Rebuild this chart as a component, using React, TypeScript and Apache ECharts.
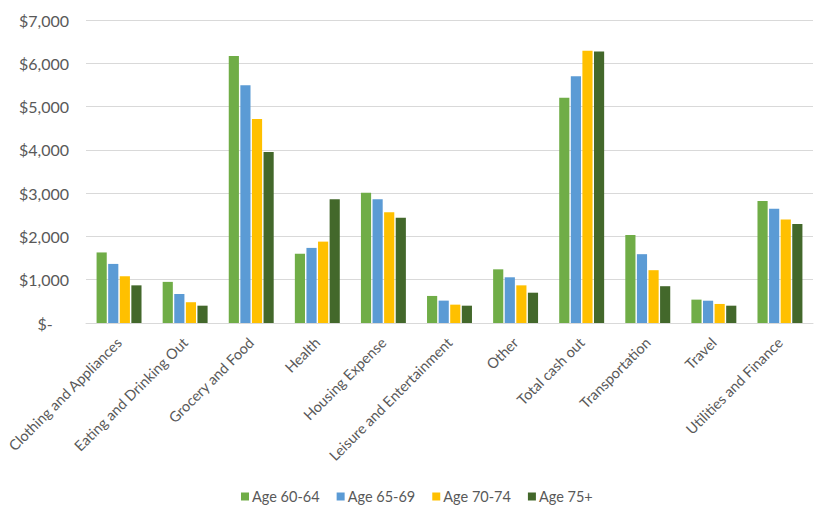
import React, { useEffect, useRef } from "react";
import * as echarts from "echarts";

const categories = [
  "Clothing and Appliances",
  "Eating and Drinking Out",
  "Grocery and Food",
  "Health",
  "Housing Expense",
  "Leisure and Entertainment",
  "Other",
  "Total cash out",
  "Transportation",
  "Travel",
  "Utilities and Finance",
];

const seriesNames = ["Age 60-64", "Age 65-69", "Age 70-74", "Age 75+"];
const age6064 = [1630, 950, 6170, 1600, 3010, 625, 1240, 5205, 2035, 540, 2820];
const age6569 = [1365, 670, 5490, 1735, 2860, 517, 1056, 5700, 1590, 515, 2640];
const age7074 = [1080, 480, 4710, 1880, 2560, 424, 870, 6290, 1220, 440, 2390];
const age75p = [870, 400, 3950, 2860, 2430, 400, 700, 6270, 850, 400, 2290];
const colors = ["#70AD47", "#5B9BD5", "#FFC000", "#43682B"];

const FONT = "Lato, 'Liberation Sans', sans-serif";

export default function App() {
  const ref = useRef<HTMLDivElement>(null);
  useEffect(() => {
    if (!ref.current) return;
    const chart = echarts.init(ref.current, undefined, { renderer: "svg" });
    const data = [age6064, age6569, age7074, age75p];
    chart.setOption({
      animation: false,
      textStyle: { fontFamily: FONT },
      grid: { left: 86, right: 11, top: 20, bottom: 188, containLabel: false },
      legend: {
        top: 489,
        left: 241,
        padding: 0,
        itemWidth: 8,
        itemHeight: 8,
        itemGap: 17,
        icon: "rect",
        textStyle: { color: "#595959", fontSize: 14.5, fontFamily: FONT, padding: [0, 0, 0, -2] },
        data: seriesNames,
      },
      xAxis: {
        type: "category",
        data: categories,
        axisLine: { lineStyle: { color: "#d9d9d9" } },
        axisTick: { show: false },
        axisLabel: {
          rotate: 45,
          interval: 0,
          color: "#595959",
          fontSize: 14.5,
          fontFamily: FONT,
          margin: 17,
        },
      },
      yAxis: {
        type: "value",
        min: 0,
        max: 7000,
        interval: 1000,
        axisLine: { show: false },
        axisTick: { show: false },
        splitLine: { lineStyle: { color: "#d9d9d9", width: 1 } },
        axisLabel: {
          color: "#595959",
          fontSize: 16,
          fontFamily: FONT,
          margin: 17,
          formatter: (v: number) => (v === 0 ? "$-    " : "$" + v.toLocaleString("en-US")),
        },
      },
      series: seriesNames.map((name, i) => ({
        name,
        type: "bar",
        data: data[i],
        barGap: "14%",
        barCategoryGap: "32%",
        itemStyle: { color: colors[i] },
      })),
    });
    return () => chart.dispose();
  }, []);
  return (
    <div
      ref={ref}
      style={{ position: "fixed", left: 0, top: 0, width: 824, height: 511, background: "#fff" }}
    />
  );
}
